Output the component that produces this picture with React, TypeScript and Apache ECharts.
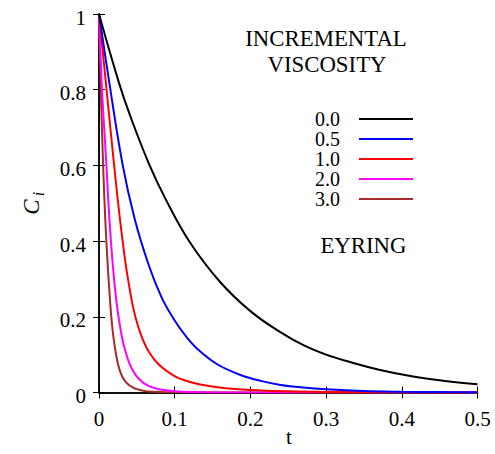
import React, { useEffect, useRef } from 'react';
import * as echarts from 'echarts';

const seriesNames = ['0.0', '0.5', '1.0', '2.0', '3.0'];
const seriesColors = ['#000000', '#0000ff', '#ff0000', '#ff00ff', '#a52a2a'];

const curve00 = [[0, 1], [0.0264, 0.818], [0.041, 0.732], [0.066, 0.604], [0.0885, 0.509], [0.12, 0.397], [0.16, 0.292], [0.2, 0.215], [0.239, 0.16], [0.27, 0.125], [0.3, 0.10], [0.327, 0.083], [0.37, 0.06], [0.415, 0.042], [0.46, 0.03], [0.5, 0.022]];
const curve05 = [[0, 1], [0.0132, 0.824], [0.031, 0.604], [0.047, 0.46], [0.066, 0.335], [0.083, 0.25], [0.1, 0.19], [0.115, 0.148], [0.13, 0.115], [0.155, 0.076], [0.186, 0.047], [0.215, 0.03], [0.24, 0.02], [0.27, 0.013], [0.3, 0.0085], [0.35, 0.004], [0.4, 0.002], [0.45, 0.001], [0.5, 0.0005]];
const curve10 = [[0, 1], [0.0088, 0.824], [0.0198, 0.604], [0.027, 0.47], [0.0348, 0.345], [0.04, 0.28], [0.0462, 0.215], [0.055, 0.155], [0.066, 0.107], [0.08, 0.072], [0.101, 0.042], [0.115, 0.031], [0.132, 0.022], [0.164, 0.012], [0.2, 0.0065], [0.25, 0.003], [0.3, 0.0015], [0.4, 0.0005], [0.5, 0]];
const curve20 = [[0, 1], [0.004, 0.80], [0.0097, 0.604], [0.014, 0.45], [0.0185, 0.33], [0.0225, 0.25], [0.0264, 0.192], [0.031, 0.14], [0.0352, 0.107], [0.041, 0.073], [0.0485, 0.046], [0.056, 0.03], [0.063, 0.02], [0.0704, 0.0135], [0.08, 0.0085], [0.088, 0.0058], [0.1, 0.0032], [0.12, 0.001], [0.15, 0], [0.5, 0]];
const curve30 = [[0, 1], [0.002, 0.83], [0.004, 0.69], [0.006, 0.57], [0.008, 0.47], [0.01, 0.39], [0.012, 0.32], [0.014, 0.26], [0.016, 0.205], [0.018, 0.165], [0.02, 0.133], [0.023, 0.095], [0.026, 0.068], [0.03, 0.045], [0.035, 0.029], [0.04, 0.019], [0.045, 0.013], [0.05, 0.009], [0.06, 0.004], [0.07, 0.002], [0.09, 0.0005], [0.5, 0]];
const curves = [curve00, curve05, curve10, curve20, curve30];

const serif = '"Liberation Serif"';

export default function App() {
  const ref = useRef<HTMLDivElement>(null);
  useEffect(() => {
    document.body.style.margin = '0';
    const chart = echarts.init(ref.current!, null, { renderer: 'svg' });
    const axisCommon = {
      type: 'value' as const,
      axisLine: { show: true, lineStyle: { color: '#000', width: 1.5 } },
      axisTick: { show: true, inside: true, length: 6, lineStyle: { color: '#000', width: 1 } },
      splitLine: { show: false },
    };
    chart.setOption({
      animation: false,
      backgroundColor: '#ffffff',
      textStyle: { fontFamily: serif },
      grid: { left: 99, top: 14, right: 17.5, bottom: 61.5, containLabel: false, outerBoundsMode: 'none' },
      xAxis: [
        { ...axisCommon, position: 'bottom', min: 0, max: 0.5, interval: 0.1,
          axisLabel: { color: '#000', fontFamily: serif, fontSize: 21, margin: 16 } },
        { ...axisCommon, position: 'top', min: 0, max: 0.5, interval: 0.1, axisLabel: { show: false } },
      ],
      yAxis: [
        { ...axisCommon, position: 'left', min: 0, max: 1, interval: 0.2,
          axisLabel: { color: '#000', fontFamily: serif, fontSize: 21, margin: 13, verticalAlign: 'top', lineHeight: 7 } },
        { ...axisCommon, position: 'right', min: 0, max: 1, interval: 0.2, axisLabel: { show: false } },
      ],
      legend: {
        orient: 'vertical',
        right: 82,
        top: 109,
        padding: 0,
        align: 'right',
        icon: 'rect',
        itemWidth: 54,
        itemHeight: 2,
        itemGap: 0,
        textStyle: { color: '#000', fontFamily: serif, fontSize: 20, padding: [0, 14, 0, 0] },
        data: seriesNames,
      },
      series: curves.map((c, i) => ({
        name: seriesNames[i],
        type: 'line',
        data: c,
        showSymbol: false,
        smooth: 0.4,
        color: seriesColors[i],
        lineStyle: { color: seriesColors[i], width: 2 },
        z: 10 - i,
      })),
      graphic: [
        { type: 'text', x: 326, y: 38, style: { text: 'INCREMENTAL', fontFamily: serif, fontSize: 22.8, fill: '#000', textAlign: 'center', textVerticalAlign: 'middle' } },
        { type: 'text', x: 327, y: 64, style: { text: 'VISCOSITY', fontFamily: serif, fontSize: 22.8, fill: '#000', textAlign: 'center', textVerticalAlign: 'middle' } },
        { type: 'text', x: 363.5, y: 245, style: { text: 'EYRING', fontFamily: serif, fontSize: 22.8, fill: '#000', textAlign: 'center', textVerticalAlign: 'middle' } },
        { type: 'text', x: 289, y: 437, style: { text: 't', fontFamily: serif, fontSize: 21, fill: '#000', textAlign: 'center', textVerticalAlign: 'middle' } },
        { type: 'text', x: 31, y: 207, rotation: Math.PI / 2, style: { text: 'C', fontFamily: serif, fontStyle: 'italic', fontSize: 23, fill: '#000', textAlign: 'center', textVerticalAlign: 'middle' } },
        { type: 'text', x: 38, y: 194, rotation: Math.PI / 2, style: { text: 'i', fontFamily: serif, fontStyle: 'italic', fontSize: 16, fill: '#000', textAlign: 'center', textVerticalAlign: 'middle' } },
      ],
    });
    return () => chart.dispose();
  }, []);
  return <div ref={ref} style={{ position: 'absolute', left: 0, top: 0, width: 495, height: 454 }} />;
}
